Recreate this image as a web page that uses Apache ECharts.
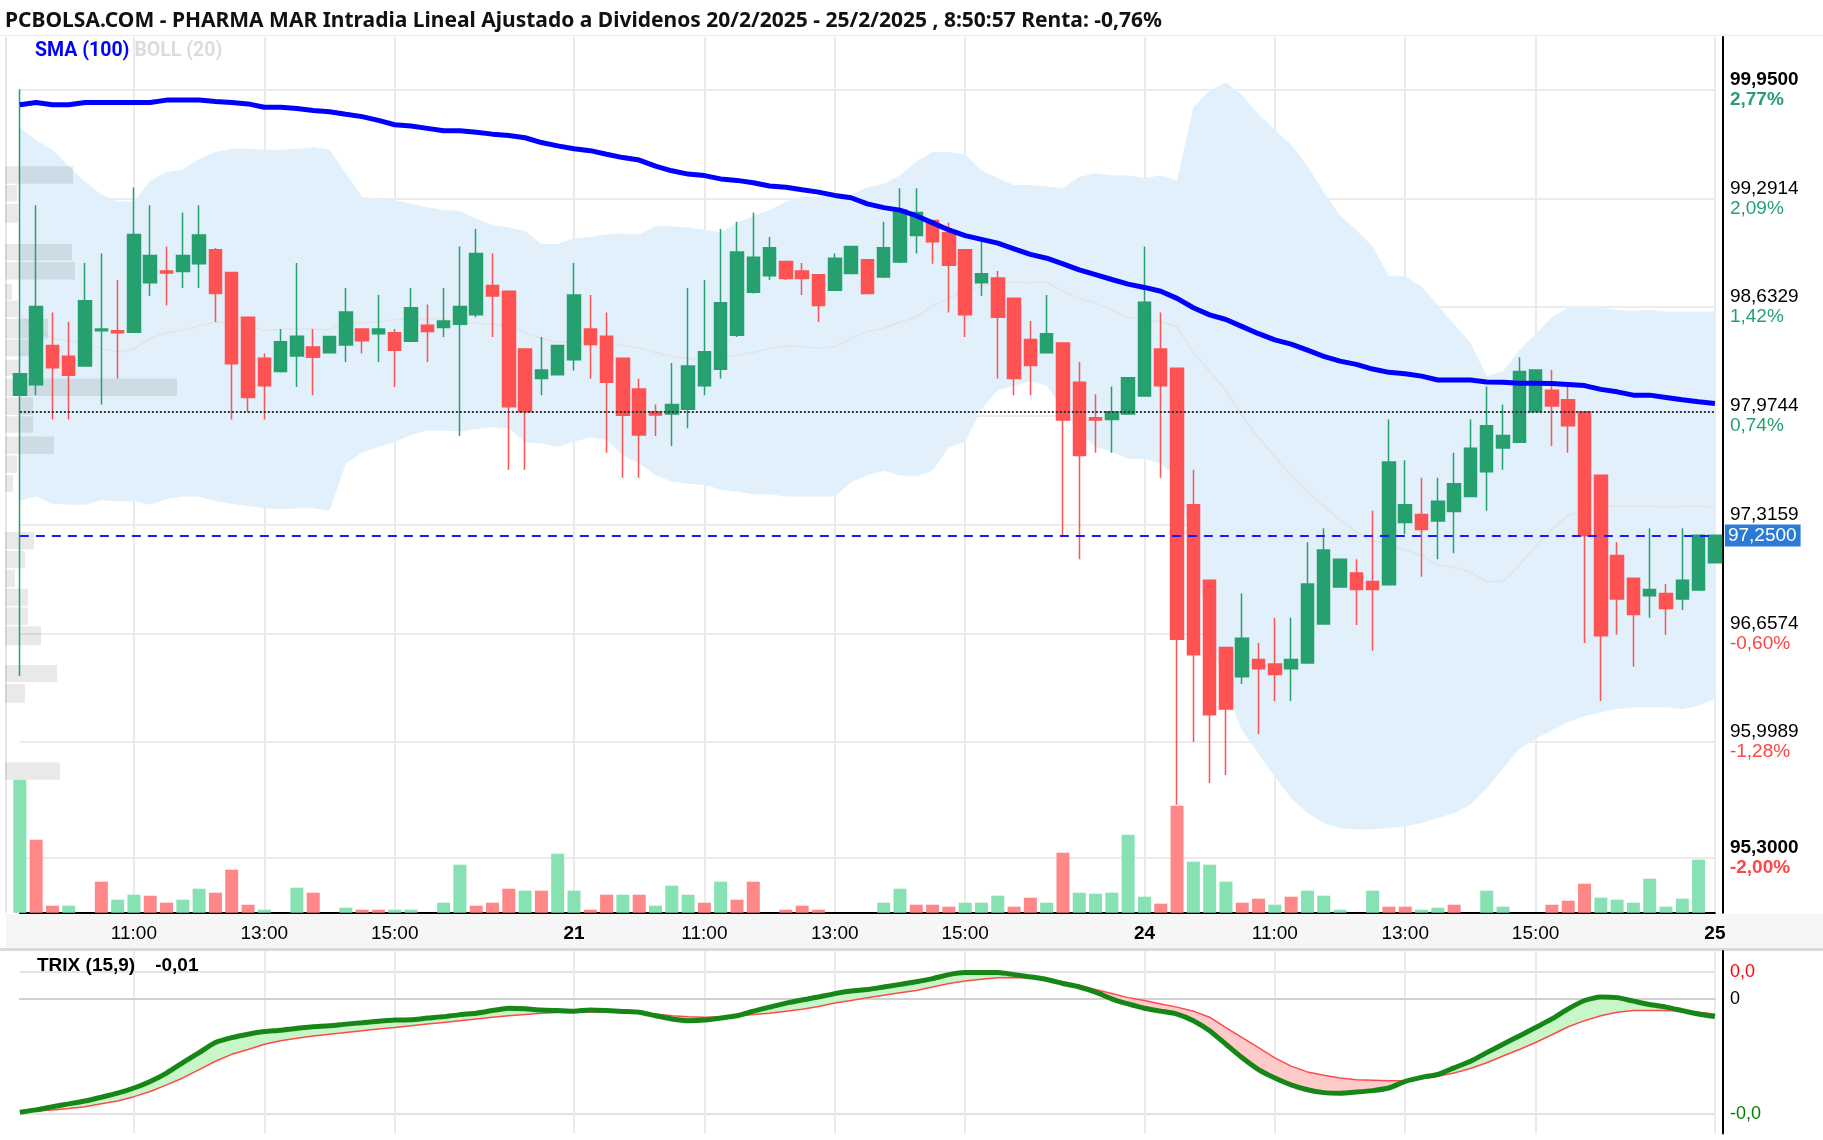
<!DOCTYPE html>
<html>
<head>
<meta charset="utf-8">
<title>PHARMA MAR intradía</title>
<script src="https://cdn.jsdelivr.net/npm/echarts/dist/echarts.min.js"></script>
<style>
  html, body { margin: 0; padding: 0; background: #fff; }
  #chart { width: 1823px; height: 1140px; }
</style>
</head>
<body>
<div id="chart"></div>
<script>
// --- sesiones (velas de 15 minutos) ---
const sessionDay = ['20', '21', '24', '25'];
const sessionStart = ['09:15', '09:00', '09:00', '09:00'];
const sessionBars = [34, 35, 35, 1];
const labelTimes = ['11:00', '13:00', '15:00'];

// --- velas ---
const opens = [98.10,98.163,98.40,98.335,98.277,98.49,98.49,98.48,98.78,98.852, 98.849,98.895,98.98,98.843,98.572,98.323,98.243,98.337,98.392,98.357, 98.403,98.50,98.472,98.478,98.426,98.523,98.509,98.529,98.586,98.763, 98.729,98.38,98.20,98.223,98.315,98.50,98.457,98.323,98.137,98.0, 97.986,98.015,98.157,98.257,98.463,98.723,98.823,98.909,98.852,98.829, 98.735,98.837,98.92,98.815,98.906,99.066,99.157,99.083,98.98,98.78, 98.809,98.686,98.437,98.357,98.415,98.178,97.963,97.952,97.986,98.095, 98.38,98.263,97.437,96.98,96.572,96.395,96.50,96.472,96.443,96.478, 96.715,96.938,97.023,96.972,96.952,97.329,97.377,97.338,97.395,97.486, 97.637,97.78,97.815,98.0,98.129,98.072,98.0,97.615,97.129,96.992, 96.886,96.90,96.866,96.92,97.086];
const closes = [98.229,98.637,98.266,98.22,98.672,98.50,98.478,99.072,98.946,98.84, 98.946,99.069,98.715,98.29,98.086,98.157,98.423,98.457,98.329,98.455, 98.603,98.43,98.50,98.372,98.629,98.486,98.549,98.637,98.957,98.70, 98.029,98.0,98.252,98.40,98.706,98.406,98.178,97.978,97.858,97.98, 98.043,98.277,98.363,98.66,98.966,98.935,98.992,98.806,98.806,98.643, 98.929,99.0,98.715,98.992,99.22,99.206,99.029,98.886,98.586,98.835, 98.572,98.20,98.28,98.472,97.949,97.735,97.949,98.0,98.206,98.663, 98.157,96.623,96.529,96.166,96.20,96.629,96.443,96.409,96.50,96.957, 97.163,97.106,96.923,96.923,97.695,97.437,97.286,97.458,97.563,97.778, 97.915,97.855,98.243,98.252,98.035,97.915,97.249,96.643,96.866,96.772, 96.923,96.809,96.98,97.252,97.252];
const lows = [96.40,98.10,97.952,97.952,98.272,98.043,98.20,98.478,98.70,98.643, 98.749,98.749,98.543,97.952,98.0,97.952,98.237,98.149,98.10,98.352, 98.30,98.352,98.30,98.149,98.42,98.30,98.452,97.852,98.572,98.452, 97.649,97.649,98.10,98.223,98.249,98.20,97.752,97.60,97.60,97.852, 97.792,97.90,98.10,98.20,98.452,98.715,98.797,98.797,98.706,98.543, 98.735,98.837,98.715,98.809,98.90,98.957,98.895,98.60,98.452,98.70, 98.20,98.10,98.10,98.352,97.252,97.106,97.752,97.752,97.986,98.095, 97.60,95.62,96.0,95.752,95.80,96.352,96.049,96.249,96.249,96.478, 96.715,96.938,96.709,96.552,96.952,97.258,97.0,97.106,97.143,97.486, 97.40,97.649,97.815,98.0,97.792,97.752,96.60,96.249,96.649,96.458, 96.752,96.649,96.80,96.92,97.086];
const highs = [99.952,99.249,98.60,98.543,98.90,98.957,98.797,99.357,99.249,99.0, 99.206,99.249,98.99,98.843,98.572,98.352,98.50,98.90,98.50,98.455, 98.749,98.50,98.706,98.50,98.749,98.649,98.749,99.0,99.106,98.957, 98.729,98.38,98.452,98.40,98.90,98.706,98.60,98.323,98.20,98.043, 98.295,98.749,98.797,99.106,99.149,99.206,99.058,98.909,98.90,98.829, 98.957,99.0,98.92,99.149,99.352,99.352,99.157,99.143,98.98,99.029, 98.852,98.686,98.549,98.706,98.415,98.30,98.106,98.152,98.206,99.0, 98.60,98.263,97.649,96.98,96.572,96.90,96.60,96.752,96.752,97.209, 97.295,97.106,97.106,97.40,97.952,97.706,97.60,97.60,97.752,97.952, 98.152,98.043,98.329,98.252,98.252,98.157,98.0,97.615,97.209,96.992, 97.295,96.957,97.295,97.252,97.252];

// --- volumen (relativo) y sentido de la barra ---
const volumes = [133,73,7,7,0,31,13,18,17,10, 13,24,20,43,8,3,0,25,20,0, 5,3,3,3,3,0,10,48,7,10, 24,22,22,59,22,3,18,18,18,7, 27,18,10,31,13,31,0,3,7,3, 0,0,0,10,24,8,8,6,10,10, 17,6,15,10,60,20,19,20,78,16, 9,107,51,48,31,10,14,8,16,22, 17,3,0,22,6,6,3,5,8,0, 22,6,0,0,8,12,29,15,13,10, 34,6,14,53,0];
const volumeSide = ['u','d','d','u','u','d','u','u','d','d', 'u','u','d','d','d','u','u','u','d','u', 'u','d','d','u','u','u','u','u','d','d', 'd','u','d','u','u','d','d','u','d','u', 'u','u','d','u','d','d','u','d','d','d', 'u','u','u','u','u','d','d','d','u','u', 'u','d','d','u','d','u','u','u','u','u', 'd','d','u','u','u','d','d','u','d','u', 'u','u','u','u','d','d','u','u','d','u', 'u','u','u','u','d','d','d','u','u','u', 'u','u','u','u','u'];

// --- indicadores ---
const sma100 = [99.858,99.872,99.858,99.858,99.872,99.872,99.872,99.872,99.872,99.886, 99.886,99.886,99.878,99.872,99.863,99.843,99.843,99.835,99.823,99.815, 99.80,99.786,99.763,99.737,99.729,99.715,99.70,99.70,99.692,99.68, 99.672,99.658,99.629,99.609,99.592,99.58,99.558,99.538,99.523,99.486, 99.458,99.438,99.429,99.409,99.40,99.386,99.366,99.358,99.343,99.329, 99.309,99.295,99.258,99.235,99.22,99.186,99.143,99.10,99.066,99.043, 99.02,98.986,98.952,98.929,98.895,98.858,98.829,98.80,98.772,98.752, 98.729,98.686,98.629,98.586,98.558,98.515,98.472,98.435,98.409,98.372, 98.335,98.306,98.286,98.258,98.238,98.23,98.215,98.192,98.192,98.192, 98.18,98.178,98.172,98.172,98.17,98.165,98.158,98.135,98.12,98.10, 98.10,98.086,98.072,98.06,98.049];
const bollUpper = [99.72,99.643,99.586,99.486,99.392,99.315,99.272,99.272,99.40,99.449, 99.466,99.529,99.572,99.592,99.592,99.586,99.586,99.592,99.60,99.586, 99.443,99.30,99.29,99.28,99.258,99.238,99.22,99.215,99.17,99.129, 99.115,99.094,99.015,99.015,99.049,99.058,99.072,99.078,99.072,99.123, 99.123,99.115,99.10,99.086,99.143,99.186,99.22,99.272,99.30,99.30, 99.32,99.315,99.358,99.38,99.429,99.515,99.572,99.572,99.558,99.458, 99.415,99.372,99.372,99.363,99.352,99.42,99.443,99.429,99.429,99.415, 99.429,99.40,99.843,99.943,99.992,99.915,99.80,99.706,99.615,99.486, 99.33,99.186,99.10,99.0,98.82,98.82,98.758,98.643,98.529,98.415, 98.215,98.243,98.372,98.472,98.572,98.629,98.637,98.629,98.615,98.61, 98.615,98.606,98.606,98.606,98.606];
const bollMid = [98.586,98.50,98.443,98.429,98.415,98.38,98.363,98.38,98.443,98.478, 98.495,98.52,98.543,98.537,98.523,98.49,98.50,98.50,98.50,98.495, 98.543,98.537,98.543,98.558,98.563,98.563,98.563,98.543,98.535,98.529, 98.515,98.478,98.443,98.42,98.42,98.429,98.42,98.40,98.386,98.358, 98.335,98.32,98.315,98.329,98.343,98.358,98.38,98.40,98.392,98.386, 98.392,98.443,98.486,98.506,98.543,98.572,98.643,98.686,98.729,98.758, 98.78,98.786,98.78,98.786,98.729,98.686,98.658,98.615,98.572,98.558, 98.543,98.515,98.358,98.243,98.129,97.972,97.843,97.729,97.615,97.515, 97.43,97.343,97.272,97.215,97.20,97.163,97.129,97.072,97.058,97.029, 96.972,96.972,97.072,97.186,97.286,97.372,97.40,97.42,97.429,97.429, 97.429,97.42,97.429,97.429,97.42];
const bollLower = [97.46,97.486,97.443,97.437,97.437,97.466,97.458,97.458,97.437,97.472, 97.486,97.486,97.458,97.443,97.429,97.415,97.409,97.415,97.415,97.40, 97.686,97.752,97.786,97.815,97.858,97.886,97.886,97.88,97.895,97.906, 97.90,97.815,97.809,97.786,97.82,97.843,97.829,97.735,97.686,97.615, 97.578,97.563,97.557,97.529,97.515,97.50,97.50,97.486,97.486,97.486, 97.486,97.572,97.615,97.643,97.615,97.609,97.643,97.786,97.815,98.015, 98.129,98.157,98.186,98.157,98.015,97.872,97.786,97.757,97.715,97.715, 97.686,97.60,97.15,96.65,96.30,96.07,95.93,95.79,95.66,95.57, 95.51,95.48,95.47,95.47,95.48,95.49,95.51,95.54,95.57,95.62, 95.72,95.84,95.96,96.02,96.07,96.12,96.157,96.18,96.20,96.21, 96.21,96.21,96.20,96.22,96.26];
const trixLine = [-0.0394,-0.0386,-0.0375,-0.0365,-0.0355,-0.0342,-0.0328,-0.0310,-0.0287,-0.0258, -0.0222,-0.0187,-0.0152,-0.0135,-0.0123,-0.0114,-0.0109,-0.0102,-0.0097,-0.0094, -0.0088,-0.0083,-0.0078,-0.0074,-0.0073,-0.0067,-0.0062,-0.0055,-0.0050,-0.0041, -0.0033,-0.0035,-0.0039,-0.0041,-0.0043,-0.0039,-0.0041,-0.0044,-0.0047,-0.0059, -0.0070,-0.0076,-0.0074,-0.0067,-0.0059,-0.0043,-0.0029,-0.0015,-0.0004,0.0006, 0.0018,0.0027,0.0032,0.0041,0.0050,0.0059,0.0070,0.0084,0.0091,0.0091, 0.0091,0.0084,0.0076,0.0067,0.0053,0.0041,0.0023,0.0000,-0.0018,-0.0033, -0.0043,-0.0053,-0.0076,-0.0111,-0.0158,-0.0205,-0.0246,-0.0275,-0.0299,-0.0316, -0.0326,-0.0328,-0.0324,-0.0319,-0.0310,-0.0287,-0.0273,-0.0263,-0.0240,-0.0217, -0.0187,-0.0158,-0.0129,-0.0100,-0.0070,-0.0035,-0.0006,0.0006,0.0004,-0.0008, -0.0020,-0.0029,-0.0041,-0.0053,-0.0062];
const trixSignal = [-0.0394,-0.0390,-0.0386,-0.0381,-0.0375,-0.0365,-0.0355,-0.0340,-0.0322,-0.0299, -0.0275,-0.0246,-0.0217,-0.0193,-0.0176,-0.0158,-0.0146,-0.0137,-0.0129,-0.0123, -0.0117,-0.0111,-0.0105,-0.0100,-0.0094,-0.0088,-0.0082,-0.0076,-0.0070,-0.0064, -0.0059,-0.0055,-0.0050,-0.0048,-0.0047,-0.0046,-0.0046,-0.0047,-0.0050,-0.0053, -0.0059,-0.0062,-0.0064,-0.0062,-0.0060,-0.0055,-0.0050,-0.0043,-0.0036,-0.0027, -0.0015,-0.0006,0.0004,0.0012,0.0021,0.0029,0.0041,0.0053,0.0062,0.0068, 0.0073,0.0074,0.0073,0.0067,0.0059,0.0047,0.0032,0.0018,0.0004,-0.0006, -0.0018,-0.0029,-0.0043,-0.0064,-0.0100,-0.0135,-0.0170,-0.0205,-0.0234,-0.0254, -0.0266,-0.0275,-0.0281,-0.0283,-0.0285,-0.0285,-0.0278,-0.0269,-0.0258,-0.0242, -0.0222,-0.0199,-0.0176,-0.0152,-0.0125,-0.0097,-0.0076,-0.0059,-0.0047,-0.0041, -0.0041,-0.0041,-0.0043,-0.0047,-0.0053];

// --- perfil de volumen por precio ---
const profileLow = [99.38,99.272,99.143,98.915,98.80,98.678,98.572,98.443,98.335,98.215,98.095,97.98,97.872,97.743,97.629,97.515,97.166,97.052,96.938,96.823,96.709,96.586,96.363,96.238,95.772];
const profileHigh = [99.486,99.372,99.258,99.015,98.906,98.772,98.672,98.563,98.437,98.315,98.20,98.086,97.972,97.849,97.735,97.615,97.272,97.157,97.043,96.929,96.815,96.701,96.466,96.352,95.878];
const profileVol = [68,12,13,67,70,7,13,43,30,15,172,28,28,49,12,8,29,20,10,23,23,36,52,20,55];

// --- niveles y etiquetas de los ejes ---
const lastPrice = 97.25;
const prevClose = 97.995;
const priceTicks = [99.95, 99.2914, 98.6329, 97.9744, 97.3159, 96.6574, 95.9989, 95.30];
const priceTickLabels = ['99,9500', '99,2914', '98,6329', '97,9744', '97,3159', '96,6574', '95,9989', '95,3000'];
const pctTickLabels = ['2,77%', '2,09%', '1,42%', '0,74%', '', '-0,60%', '-1,28%', '-2,00%'];
const trixTicks = [0.0093, 0, -0.04];
const trixTickLabels = ['0,0', '0', '-0,0'];

const titleText = 'PCBOLSA.COM - PHARMA MAR Intradia Lineal Ajustado a Dividenos 20/2/2025 - 25/2/2025 , 8:50:57 Renta: -0,76%';

const UP = '#26a06e', DOWN = '#ff5252';
const VUP = '#86e2b3', VDOWN = '#ff8787';
const AXIS_FONT = 'Liberation Sans, Arial, sans-serif';

// categorías
const pad = n => (n < 10 ? '0' : '') + n;
const categories = [];
const dayStart = new Set();
sessionDay.forEach((d, s) => {
  let [h, m] = sessionStart[s].split(':').map(Number);
  for (let k = 0; k < sessionBars[s]; k++) {
    if (k === 0 && s > 0) dayStart.add(categories.length);
    categories.push(d + ' ' + pad(h) + ':' + pad(m));
    m += 15;
    if (m >= 60) { m -= 60; h++; }
  }
});
const showTick = i => dayStart.has(i) || labelTimes.indexOf(categories[i].slice(3)) >= 0;

function nearest(list, v) {
  let best = 0;
  list.forEach((t, k) => { if (Math.abs(t - v) < Math.abs(list[best] - v)) best = k; });
  return best;
}

const chart = echarts.init(document.getElementById('chart'));

const option = {
  animation: false,
  backgroundColor: '#fff',
  title: [
    {
      text: titleText, left: 5, top: 11, padding: 0,
      textStyle: { fontFamily: 'Noto Sans', fontWeight: 'bold', fontSize: 21, color: '#111' }
    },
    {
      text: '{s|SMA (100)} {b|BOLL (20)}', left: 35, top: 41, padding: 0,
      textStyle: {
        rich: {
          s: { color: '#0000ff', fontWeight: 'bold', fontSize: 19.5, fontFamily: 'Roboto' },
          b: { color: '#dcdcdc', fontWeight: 'bold', fontSize: 19.5, fontFamily: 'Roboto' }
        }
      }
    },
    {
      text: '{t|TRIX (15,9)}    {t|-0,01}', left: 37, top: 956, padding: 0,
      textStyle: { rich: { t: { color: '#000', fontWeight: 'bold', fontSize: 19, fontFamily: AXIS_FONT } } }
    }
  ],
  graphic: [
    { type: 'rect', z: -1, shape: { x: 6, y: 914, width: 1817, height: 34 }, style: { fill: '#f6f6f6' } },
    { type: 'rect', z: -1, shape: { x: 0, y: 948, width: 1823, height: 3 }, style: { fill: '#dadada' } },
    { type: 'rect', z: -1, shape: { x: 0, y: 35, width: 1823, height: 1 }, style: { fill: '#ececec' } },
    { type: 'rect', z: -1, shape: { x: 5, y: 37, width: 2, height: 876 }, style: { fill: '#e6e6e6' } }
  ],
  grid: [
    { left: 19.85, right: 108.1, top: 37, height: 875.7 },
    { left: 5, width: 400, top: 37, height: 875.7 },
    { left: 19.85, right: 108.1, top: 951, height: 182.5 }
  ],
  xAxis: [
    {
      type: 'category', gridIndex: 0, data: categories, boundaryGap: false,
      axisLine: { lineStyle: { color: '#000', width: 2 } },
      axisTick: { show: false },
      axisLabel: {
        interval: (i) => showTick(i), margin: 12, color: '#000', fontSize: 19, fontFamily: AXIS_FONT,
        formatter: function (v) {
          const i = categories.indexOf(v);
          return dayStart.has(i) ? '{d|' + v.slice(0, 2) + '}' : v.slice(3);
        },
        rich: { d: { fontWeight: 'bold', fontSize: 19, fontFamily: AXIS_FONT, color: '#000' } }
      },
      splitLine: { show: true, interval: (i) => showTick(i), lineStyle: { color: '#ebebeb', width: 2 } }
    },
    { type: 'value', gridIndex: 1, min: 0, max: 400, show: false },
    {
      type: 'category', gridIndex: 2, data: categories, boundaryGap: false,
      axisLine: { lineStyle: { color: '#d0d0d0', width: 2 } },
      axisTick: { show: false }, axisLabel: { show: false },
      splitLine: { show: true, interval: (i) => showTick(i), lineStyle: { color: '#ebebeb', width: 2 } }
    }
  ],
  yAxis: [
    {
      type: 'value', gridIndex: 0, position: 'right', offset: 8,
      min: 94.967, max: 100.268,
      axisLine: { show: true, lineStyle: { color: '#000', width: 2 } },
      axisTick: { show: false, customValues: priceTicks },
      axisLabel: {
        customValues: priceTicks, margin: 7,
        formatter: function (v) {
          const k = nearest(priceTicks, v);
          const bold = k === 0 || k === priceTicks.length - 1;
          const pct = pctTickLabels[k];
          const side = pct && pct[0] === '-' ? 'd' : 'u';
          return '{' + (bold ? 'pb' : 'p') + '|' + priceTickLabels[k] + '}\n{' + side + (bold ? 'b' : '') + '|' + (pct || ' ') + '}';
        },
        rich: {
          p: { color: '#000', fontSize: 19, lineHeight: 20, fontFamily: AXIS_FONT },
          pb: { color: '#000', fontSize: 19, lineHeight: 20, fontFamily: AXIS_FONT, fontWeight: 'bold' },
          u: { color: UP, fontSize: 19, lineHeight: 20, fontFamily: AXIS_FONT },
          ub: { color: UP, fontSize: 19, lineHeight: 20, fontFamily: AXIS_FONT, fontWeight: 'bold' },
          d: { color: '#ff4545', fontSize: 19, lineHeight: 20, fontFamily: AXIS_FONT },
          db: { color: '#ff4545', fontSize: 19, lineHeight: 20, fontFamily: AXIS_FONT, fontWeight: 'bold' }
        }
      },
      splitLine: { show: true, lineStyle: { color: '#ececec', width: 2 } }
    },
    { type: 'value', gridIndex: 0, min: 0, max: 875.7, show: false },
    { type: 'value', gridIndex: 1, min: 94.967, max: 100.268, show: false },
    {
      type: 'value', gridIndex: 2, position: 'right', offset: 8,
      min: -0.0468, max: 0.0166,
      axisLine: { show: true, lineStyle: { color: '#000', width: 2 } },
      axisTick: { show: false, customValues: trixTicks },
      axisLabel: {
        customValues: trixTicks, margin: 7, fontSize: 18, fontFamily: AXIS_FONT,
        formatter: v => trixTickLabels[nearest(trixTicks, v)],
        color: v => (v > 0.0001 ? '#ff0000' : (v < -0.0001 ? '#008000' : '#000'))
      },
      splitLine: { show: true, lineStyle: { color: ['#e2e2e2', '#9c9c9c', '#e2e2e2'], width: 2 } }
    }
  ],
  series: [
    {
      name: 'BOLL low', type: 'line', xAxisIndex: 0, yAxisIndex: 0, z: 1,
      data: bollLower, stack: 'boll', symbol: 'none', silent: true,
      lineStyle: { opacity: 0 }
    },
    {
      name: 'BOLL (20)', type: 'line', xAxisIndex: 0, yAxisIndex: 0, z: 1,
      data: bollUpper.map((u, i) => +(u - bollLower[i]).toFixed(4)), stack: 'boll', symbol: 'none', silent: true,
      lineStyle: { opacity: 0 }, areaStyle: { color: '#e1f0fb', opacity: 1 }
    },
    {
      name: 'BOLL mid', type: 'line', xAxisIndex: 0, yAxisIndex: 0, z: 1,
      data: bollMid, symbol: 'none', silent: true,
      lineStyle: { color: '#e3e3e3', width: 1.5 }
    },
    {
      name: 'Perfil', type: 'custom', xAxisIndex: 1, yAxisIndex: 2, z: 2, silent: true,
      data: profileLow.map((lo, i) => [lo, profileHigh[i], profileVol[i]]),
      encode: { x: 2, y: [0, 1] },
      renderItem: function (params, api) {
        const a = api.coord([0, api.value(1)]);
        const b = api.coord([api.value(2), api.value(0)]);
        return {
          type: 'rect',
          shape: { x: a[0], y: a[1], width: b[0] - a[0], height: b[1] - a[1] },
          style: { fill: 'rgba(0,0,0,0.085)' }
        };
      }
    },
    {
      name: 'Volumen', type: 'bar', xAxisIndex: 0, yAxisIndex: 1, z: 2, barWidth: 13, clip: false,
      data: volumes.map((v, i) => ({ value: v, itemStyle: { color: volumeSide[i] === 'u' ? VUP : VDOWN } }))
    },
    {
      name: 'PHARMA MAR', type: 'candlestick', xAxisIndex: 0, yAxisIndex: 0, z: 3, barWidth: 13, clip: false,
      data: opens.map((o, i) => [o, closes[i], lows[i], highs[i]]),
      itemStyle: { color: UP, color0: DOWN, borderColor: UP, borderColor0: DOWN, borderWidth: 1.5 },
      markLine: {
        symbol: 'none', silent: true,
        data: [
          {
            yAxis: lastPrice,
            lineStyle: { color: '#1a1aff', type: [9, 7], width: 2 },
            label: {
              show: true, position: 'end', distance: 10, formatter: '97,2500',
              color: '#fff', backgroundColor: '#2b7bd6', padding: [2, 4, 1, 3],
              fontSize: 19, fontFamily: AXIS_FONT
            }
          },
          {
            yAxis: prevClose,
            lineStyle: { color: '#333', type: [2, 2], width: 2 },
            label: { show: false }
          }
        ]
      }
    },
    {
      name: 'SMA (100)', type: 'line', xAxisIndex: 0, yAxisIndex: 0, z: 4,
      data: sma100, symbol: 'none', silent: true,
      lineStyle: { color: '#0000ff', width: 5 }
    },
    {
      name: 'TRIX base', type: 'line', xAxisIndex: 2, yAxisIndex: 3, z: 2,
      data: trixLine.map((t, i) => Math.min(t, trixSignal[i])), stack: 'trix', stackStrategy: 'all',
      symbol: 'none', silent: true, lineStyle: { opacity: 0 }
    },
    {
      name: 'TRIX up', type: 'line', xAxisIndex: 2, yAxisIndex: 3, z: 2,
      data: trixLine.map((t, i) => Math.max(0, +(t - trixSignal[i]).toFixed(4))), stack: 'trix', stackStrategy: 'all',
      symbol: 'none', silent: true, lineStyle: { opacity: 0 }, areaStyle: { color: '#c9f6c9', opacity: 1 }
    },
    {
      name: 'TRIX down', type: 'line', xAxisIndex: 2, yAxisIndex: 3, z: 2,
      data: trixLine.map((t, i) => Math.max(0, +(trixSignal[i] - t).toFixed(4))), stack: 'trix', stackStrategy: 'all',
      symbol: 'none', silent: true, lineStyle: { opacity: 0 }, areaStyle: { color: '#ffcaca', opacity: 1 }
    },
    {
      name: 'Señal', type: 'line', xAxisIndex: 2, yAxisIndex: 3, z: 3,
      data: trixSignal, symbol: 'none', silent: true,
      lineStyle: { color: '#ff4a4a', width: 1.5 }
    },
    {
      name: 'TRIX (15,9)', type: 'line', xAxisIndex: 2, yAxisIndex: 3, z: 4,
      data: trixLine, symbol: 'none', silent: true, smooth: 0.2,
      lineStyle: { color: '#168716', width: 5 }
    }
  ]
};

chart.setOption(option);
</script>
</body>
</html>
